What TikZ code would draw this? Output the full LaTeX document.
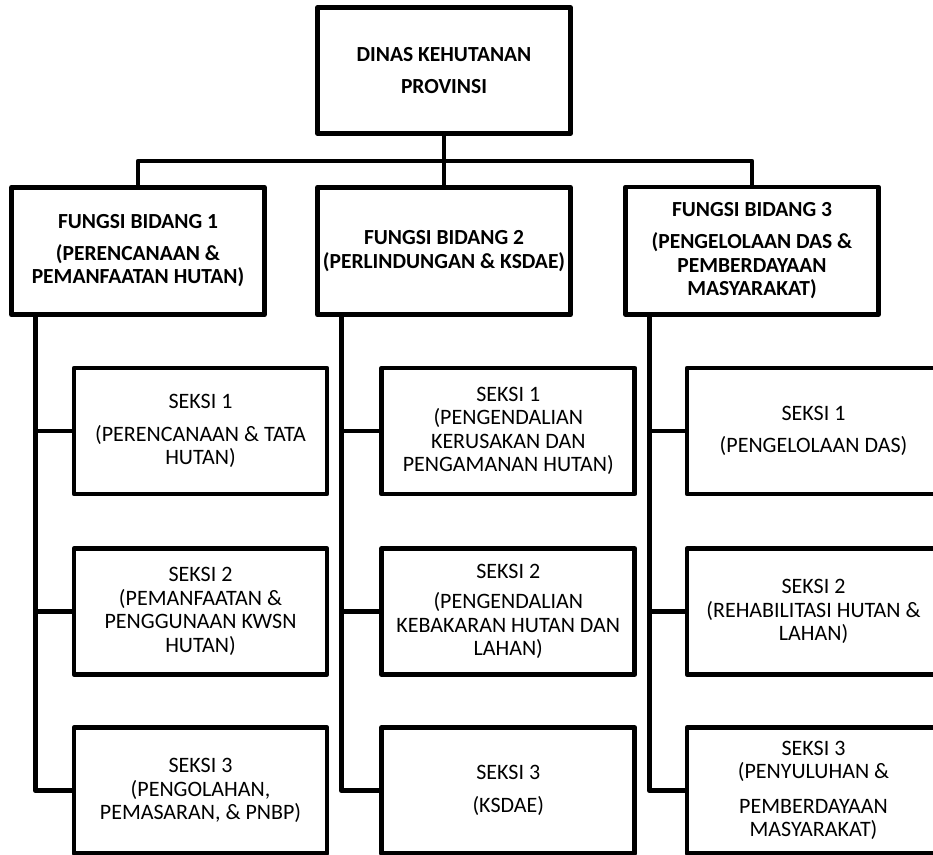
\documentclass[tikz,border=0pt]{standalone}
\usepackage{fontspec}
\setmainfont{Carlito}
\usetikzlibrary{calc}

\begin{document}
\begin{tikzpicture}[x=1pt,y=-1pt,
    line width=4.8pt, line join=round,
    orgbox/.style={draw=black, rectangle, inner sep=0pt, align=center,
      minimum width=253pt, minimum height=126pt,
      font=\fontsize{22}{23.5}\selectfont},
    headbox/.style={orgbox, minimum height=127.5pt,
      font=\fontsize{21.5}{23.5}\selectfont\bfseries},
    link/.style={draw=black, line width=4.8pt}]
  \useasboundingbox (0,0) rectangle (933,854);
  \clip (0,0) rectangle (933,854);

  % head office
  \node[headbox, minimum height=126pt] (top) at (444,70.5)
    {DINAS KEHUTANAN\\[8pt]PROVINSI};

  % three functional divisions
  \node[headbox] (f1) at (138,251)
    {FUNGSI BIDANG 1\\[8pt](PERENCANAAN \&\\PEMANFAATAN HUTAN)};
  \node[headbox] (f2) at (444,251)
    {FUNGSI BIDANG 2\\(PERLINDUNGAN \& KSDAE)};
  \node[headbox] (f3) at (752,250.75)
    {FUNGSI BIDANG 3\\[9pt](PENGELOLAAN DAS \&\\PEMBERDAYAAN\\MASYARAKAT)};

  % sections of division 1
  \node[orgbox] (s11) at (200.5,431)
    {SEKSI 1\\[9pt](PERENCANAAN \& TATA\\HUTAN)};
  \node[orgbox] (s12) at (200.5,611.5)
    {SEKSI 2\\(PEMANFAATAN \&\\PENGGUNAAN KWSN\\HUTAN)};
  \node[orgbox] (s13) at (200.5,790.5)
    {SEKSI 3\\(PENGOLAHAN,\\PEMASARAN, \& PNBP)};

  % sections of division 2
  \node[orgbox] (s21) at (508.25,431)
    {SEKSI 1\\(PENGENDALIAN\\KERUSAKAN DAN\\PENGAMANAN HUTAN)};
  \node[orgbox] (s22) at (508.25,611.5)
    {SEKSI 2\\[7pt](PENGENDALIAN\\KEBAKARAN HUTAN DAN\\LAHAN)};
  \node[orgbox] (s23) at (508.25,790.5)
    {SEKSI 3\\[9pt](KSDAE)};

  % sections of division 3
  \node[orgbox] (s31) at (813.5,431)
    {SEKSI 1\\[9pt](PENGELOLAAN DAS)};
  \node[orgbox] (s32) at (813.5,611.5)
    {SEKSI 2\\(REHABILITASI HUTAN \&\\LAHAN)};
  \node[orgbox] (s33) at (813.5,790.5)
    {SEKSI 3\\(PENYULUHAN \&\\[11pt]PEMBERDAYAAN\\MASYARAKAT)};

  % head office to divisions
  \coordinate (bus) at (444,161);
  \draw[link] (top.south) -- (f2.north);
  \draw[link] (f1.north) |- (bus) -| (f3.north);

  % division trunks to their sections
  \foreach \f/\c in {f1/1, f2/2, f3/3} {
    \coordinate (trunk\c) at ($(\f.south west)+(26,0)$);
    \draw[link] (trunk\c) |- (s\c3.west);
    \draw[link] (trunk\c) |- (s\c1.west);
    \draw[link] (trunk\c) |- (s\c2.west);
  }
\end{tikzpicture}
\end{document}
